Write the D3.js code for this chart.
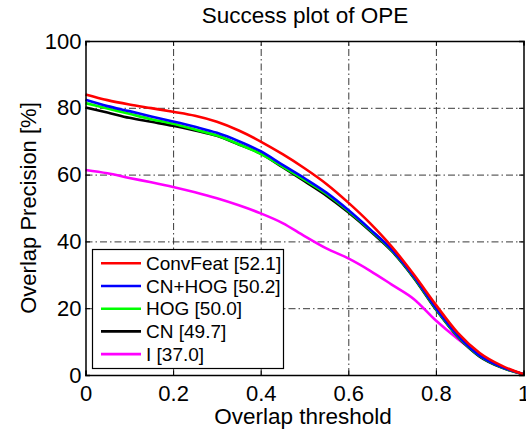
<!DOCTYPE html>
<html>
<head>
<meta charset="utf-8">
<script src="https://cdn.jsdelivr.net/npm/d3@7"></script>
<style>
  body { margin:0; background:#fff; }
  svg { display:block; font-family:"Liberation Sans", Arial, Helvetica, sans-serif; }
  .axis path { stroke:#000; stroke-width:1.5; }
  .axis line { stroke:#000; stroke-width:1; }
  .axis text { font-size:22px; fill:#000; }
  .grid line { stroke:#222; stroke-width:0.9; stroke-dasharray:7,3,1.5,3; }
  .grid path { display:none; }
</style>
</head>
<body>
<div id="canvas"></div>
<script>
// data
var thresholds = [0,0.05,0.1,0.15,0.2,0.25,0.3,0.35,0.4,0.45,0.5,0.55,0.6,0.65,0.7,0.75,0.8,0.85,0.9,0.95,1];
var convFeat = [84.0,82.3,81.0,79.9,78.8,77.6,75.8,73.2,69.9,66.1,61.9,57.2,51.6,45.4,38.3,30.0,21.0,12.6,6.6,2.8,0.2];
var cnHog    = [82.4,80.5,79.0,77.4,75.9,74.3,72.5,70.0,67.0,62.9,58.9,54.6,49.4,43.6,37.4,29.4,20.0,11.8,5.8,2.4,0.2];
var hog      = [81.4,79.8,78.2,76.6,75.2,73.5,71.7,69.1,66.2,62.4,58.4,54.2,49.1,43.4,37.2,29.2,19.8,11.6,5.7,2.3,0.2];
var cn       = [80.1,78.6,77.0,75.8,74.6,73.2,71.6,69.0,66.3,62.2,58.0,53.7,48.7,43.1,37.0,29.0,19.6,11.4,5.5,2.2,0.2];
var intens   = [61.4,60.4,59.0,57.7,56.3,54.7,52.9,50.8,48.4,45.5,41.6,37.9,34.9,31.2,27.0,22.7,16.3,10.8,6.0,2.5,0.2];

var seriesNames  = ['ConvFeat [52.1]','CN+HOG [50.2]','HOG [50.0]','CN [49.7]','I [37.0]'];
var seriesColors = ['#ff0000','#0000ff','#00ff00','#000000','#ff00ff'];
var seriesValues = [convFeat, cnHog, hog, cn, intens];

var xTicks = [0,0.2,0.4,0.6,0.8,1];
var yTicks = [0,20,40,60,80,100];

var W = 526, H = 429;
var m = {t:41,r:2.5,b:54,l:85.5};
var w = W - m.l - m.r,
    h = H - m.t - m.b;

var svg = d3.select('#canvas').append('svg')
    .attr('width',W).attr('height',H);

var plot = svg.append('g')
    .attr('transform','translate('+m.l+','+m.t+')');

var scaleX = d3.scaleLinear().domain([0,1]).range([0,w]);
var scaleY = d3.scaleLinear().domain([0,100]).range([h,0]);

plot.append('rect').attr('width',w).attr('height',h).attr('fill','#fff');

//grid
plot.append('g').attr('class','grid')
    .attr('transform','translate(0,'+h+')')
    .call(d3.axisBottom(scaleX).tickValues([0.2,0.4,0.6,0.8]).tickSize(-h).tickFormat(''));
plot.append('g').attr('class','grid')
    .call(d3.axisLeft(scaleY).tickValues([20,40,60,80]).tickSize(-w).tickFormat(''));

//curves (drawn in reverse so ConvFeat sits on top)
var line = d3.line()
    .x(function(d){return scaleX(d.t)})
    .y(function(d){return scaleY(d.v)})
    .curve(d3.curveMonotoneX);

var rows = seriesValues.map(function(vals,i){
    return {name:seriesNames[i], color:seriesColors[i],
        pts:thresholds.map(function(t,j){return {t:t, v:vals[j]}})};
});

plot.selectAll('.curve')
    .data(rows.slice().reverse())
    .enter()
    .append('path')
    .attr('class','curve')
    .attr('d',function(d){return line(d.pts)})
    .attr('fill','none')
    .attr('stroke',function(d){return d.color})
    .attr('stroke-width',2.6)
    .attr('stroke-linejoin','round');

//axes, ticks pointing inward
var axisX = d3.axisBottom(scaleX).tickValues(xTicks).tickSize(-4.5).tickPadding(10)
    .tickFormat(function(d){return d===0||d===1 ? d : d3.format('.1f')(d)});
var axisY = d3.axisLeft(scaleY).tickValues(yTicks).tickSize(-4.5).tickPadding(4);
plot.append('g').attr('class','axis axis-x')
    .attr('transform','translate(0,'+h+')')
    .call(axisX);
plot.append('g').attr('class','axis axis-y').call(axisY);
plot.append('g').attr('class','axis')
    .call(d3.axisTop(scaleX).tickValues(xTicks).tickSize(-4.5).tickFormat(''));
plot.append('g').attr('class','axis')
    .attr('transform','translate('+w+',0)')
    .call(d3.axisRight(scaleY).tickValues(yTicks).tickSize(-4.5).tickFormat(''));

//labels
svg.append('text').attr('x',305).attr('y',23)
    .attr('text-anchor','middle').attr('font-size',22.5)
    .text('Success plot of OPE');
svg.append('text').attr('x',303).attr('y',424)
    .attr('text-anchor','middle').attr('font-size',22.5)
    .text('Overlap threshold');
svg.append('text')
    .attr('transform','translate(36,'+(m.t+h/2)+') rotate(-90)')
    .attr('text-anchor','middle').attr('font-size',22)
    .text('Overlap Precision [%]');

//legend
var legend = svg.append('g').attr('transform','translate(92.5,249.5)');
legend.append('rect').attr('width',191).attr('height',119)
    .attr('fill','#fff').attr('stroke','#000').attr('stroke-width',1.2);
var items = legend.selectAll('.item')
    .data(rows)
    .enter()
    .append('g')
    .attr('class','item')
    .attr('transform',function(d,i){return 'translate(0,'+(13.8+i*22.7)+')'});
items.append('line')
    .attr('x1',8.5).attr('x2',48.5)
    .attr('stroke',function(d){return d.color})
    .attr('stroke-width',2.6);
items.append('text')
    .attr('x',53.5).attr('dy','0.35em')
    .attr('font-size',19)
    .text(function(d){return d.name});
</script>
</body>
</html>
